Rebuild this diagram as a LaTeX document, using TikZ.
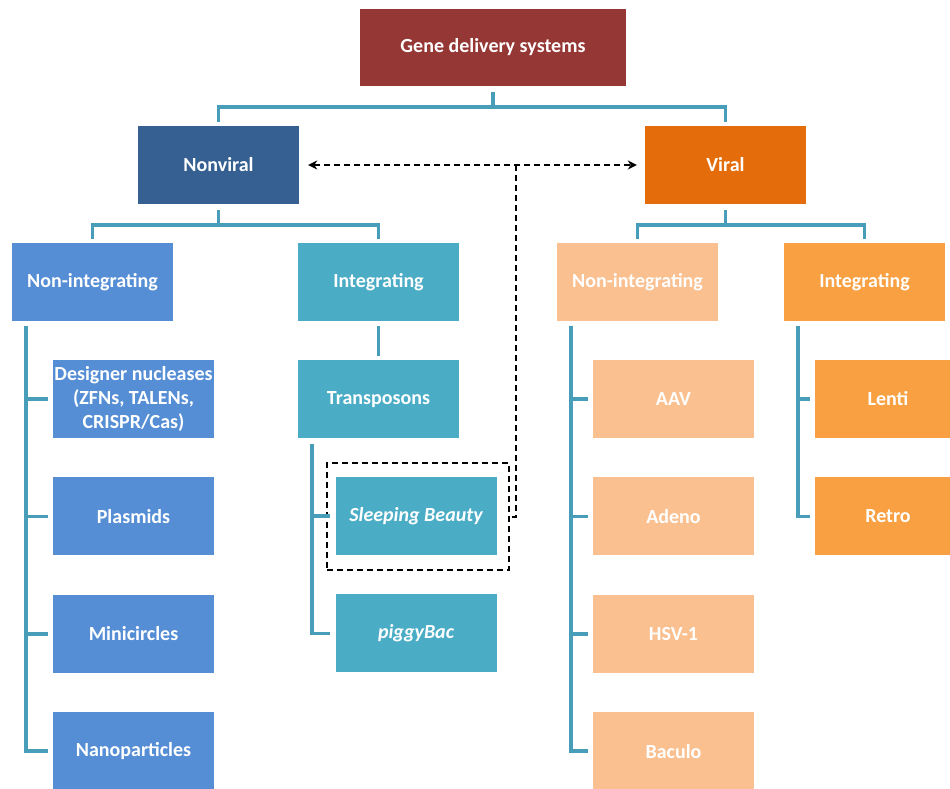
\documentclass[tikz,border=0pt]{standalone}
\usepackage{fontspec}
\setmainfont{Carlito}
\usepackage{tikz}
\usetikzlibrary{arrows.meta}
\usetikzlibrary{positioning}

\definecolor{generd}{RGB}{149,55,53}
\definecolor{nvblue}{RGB}{55,96,146}
\definecolor{vorange}{RGB}{228,108,10}
\definecolor{lblue}{RGB}{85,142,213}
\definecolor{lteal}{RGB}{75,172,198}
\definecolor{peach}{RGB}{250,192,144}
\definecolor{lorange}{RGB}{248,160,66}
\definecolor{connteal}{RGB}{72,158,184}

\begin{document}
\begin{tikzpicture}[x=1pt,y=-1pt,node distance=39pt,
  every node/.style={minimum width=161pt,minimum height=78pt,inner sep=0pt,text=white,align=center,font=\fontsize{20}{23.7}\selectfont\bfseries},
  conn/.style={line width=3.5pt,connteal},
  link/.style={black,line width=2pt,dash pattern=on 6pt off 4pt}]
  \useasboundingbox (0,0) rectangle (950,788);

  % top levels
  \node (gene) at (493,47.5)[fill=generd,minimum width=266pt,minimum height=77pt]{Gene delivery systems};
  \node (nonviral) at (218.5,165)[fill=nvblue]{Nonviral};
  \node (viral) at (725.5,165)[fill=vorange]{Viral};

  \node (nvni) at (92.5,282)[fill=lblue]{Non-integrating};
  \node (nvint) at (378.5,282)[fill=lteal]{Integrating};
  \node (vni) at (637.5,282)[fill=peach]{Non-integrating};
  \node (vint) at (864.5,282)[fill=lorange]{Integrating};

  % nonviral, non-integrating
  \node (design) at (133.5,399)[fill=lblue]{Designer nucleases\\(ZFNs, TALENs,\\CRISPR/Cas)};
  \node[below=of design,fill=lblue](plasmid){Plasmids};
  \node[below=of plasmid,fill=lblue](minic){Minicircles};
  \node[below=of minic,fill=lblue](nanop){Nanoparticles};

  % nonviral, integrating
  \node[below=of nvint,fill=lteal](transp){Transposons};
  \node (sb) at (416,516)[fill=lteal]{\itshape Sleeping Beauty};
  \node[below=of sb,fill=lteal](pb){\itshape piggyBac};
  \node (sbframe) at (418,516.5)[draw=black,link,minimum width=182pt,minimum height=107pt]{};

  % viral
  \node (aav) at (673.5,399)[fill=peach]{AAV};
  \node[below=of aav,fill=peach](adeno){Adeno};
  \node[below=of adeno,fill=peach](hsv){HSV-1};
  \node[below=of hsv,fill=peach](baculo){Baculo};
  \node (lenti) at (888,399)[fill=lorange,minimum width=146pt]{Lenti};
  \node[below=of lenti,fill=lorange,minimum width=146pt](retro){Retro};

  % tree connectors
  \foreach \a/\b in {gene/nonviral,gene/viral,nonviral/nvni,nonviral/nvint,viral/vni,viral/vint}
    \draw[conn] ([yshift=-6pt]\a.south) -- ++(0,-15pt) -| ([yshift=4pt]\b.north);
  \draw[conn] ([yshift=-5pt]nvint.south) -- ([yshift=4pt]transp.north);
  \foreach \a/\b in {nvni/design,nvni/plasmid,nvni/minic,nvni/nanop,transp/sb,transp/pb,vni/aav,vni/adeno,vni/hsv,vni/baculo,vint/lenti,vint/retro}
    \draw[conn] ([xshift=14pt,yshift=-5pt]\a.south west) |- ([xshift=-5pt]\b.west);

  % dashed link
  \coordinate (split) at (516,165);
  \draw[link,{Stealth[length=9pt,width=9pt]}-{Stealth[length=9pt,width=9pt]}] ([xshift=9pt]nonviral.east) -- ([xshift=-8pt]viral.west);
  \draw[link] (split) |- (sbframe.east);
\end{tikzpicture}
\end{document}
